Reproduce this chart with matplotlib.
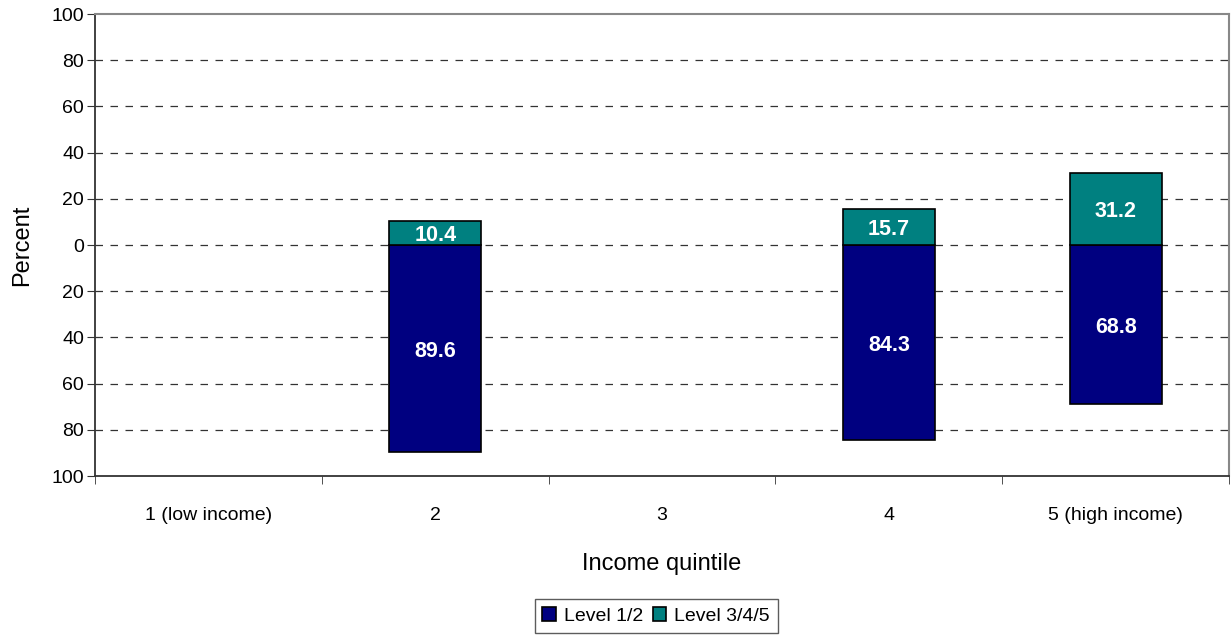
import numpy as np
import matplotlib.pyplot as plt

plt.rcParams['font.family'] = ['Liberation Sans', 'DejaVu Sans']

categories = ["1 (low income)", "2", "3", "4", "5 (high income)"]
level_12 = [np.nan, 89.6, np.nan, 84.3, 68.8]
level_345 = [np.nan, 10.4, np.nan, 15.7, 31.2]
y_ticks = [-100, -80, -60, -40, -20, 0, 20, 40, 60, 80, 100]

fig = plt.figure(figsize=(12.31, 6.37), dpi=100)
ax = fig.add_axes([0.0772, 0.2527, 0.9212, 0.7253])

x = np.arange(len(categories))
low = -np.array(level_12)
high = np.array(level_345)

ax.bar(x, low, width=0.405, color='#000080', edgecolor='black', linewidth=1.2,
       label='Level 1/2', zorder=3)
ax.bar(x, high, width=0.405, color='#008080', edgecolor='black', linewidth=1.2,
       label='Level 3/4/5', zorder=3)

# value labels, nudged a little below the segment middle like the original
for i in range(len(categories)):
    if not np.isnan(level_12[i]):
        ax.annotate(f"{level_12[i]:.1f}", (x[i], low[i] / 2), xytext=(0, -2.5),
                    textcoords='offset points', ha='center', va='center',
                    color='white', fontsize=15.5, fontweight='bold', zorder=4)
        ax.annotate(f"{level_345[i]:.1f}", (x[i], high[i] / 2), xytext=(0, -2),
                    textcoords='offset points', ha='center', va='center',
                    color='white', fontsize=15.5, fontweight='bold', zorder=4)

ax.set_xlim(-0.5, len(categories) - 0.5)
ax.set_ylim(-100, 100)
ax.set_yticks(y_ticks)
ax.set_yticklabels([str(abs(v)) for v in y_ticks])
ax.set_xticks(x)
ax.set_xticklabels(categories)
ax.set_xticks(np.arange(len(categories) + 1) - 0.5, minor=True)
ax.tick_params(axis='x', which='major', length=0, pad=22, labelsize=14)
ax.tick_params(axis='x', which='minor', length=6, direction='out', color='#333333')
ax.tick_params(axis='y', length=6, direction='out', labelsize=14, pad=2, color='#333333')

for v in y_ticks[1:-1]:
    ax.axhline(v, color='#333333', linestyle=(0, (6, 6)), linewidth=0.9, zorder=1)

ax.spines['left'].set_color('#333333')
ax.spines['bottom'].set_color('#333333')
ax.spines['left'].set_linewidth(1.3)
ax.spines['bottom'].set_linewidth(1.3)
ax.spines['top'].set_color('#888888')
ax.spines['right'].set_color('#888888')
ax.spines['top'].set_linewidth(1.5)
ax.spines['right'].set_linewidth(1.5)

ax.set_ylabel("Percent", fontsize=17, labelpad=13)
ax.set_xlabel("Income quintile", fontsize=17, labelpad=21)

leg = fig.legend(loc='center', bbox_to_anchor=(0.533, 0.033), ncol=2, fontsize=14,
                 frameon=True, fancybox=False, edgecolor='#333333',
                 handlelength=0.7, handleheight=0.7, handletextpad=0.4,
                 columnspacing=0.5, borderpad=0.4)
leg.get_frame().set_linewidth(1.0)

fig.savefig("out.png", dpi=100)
